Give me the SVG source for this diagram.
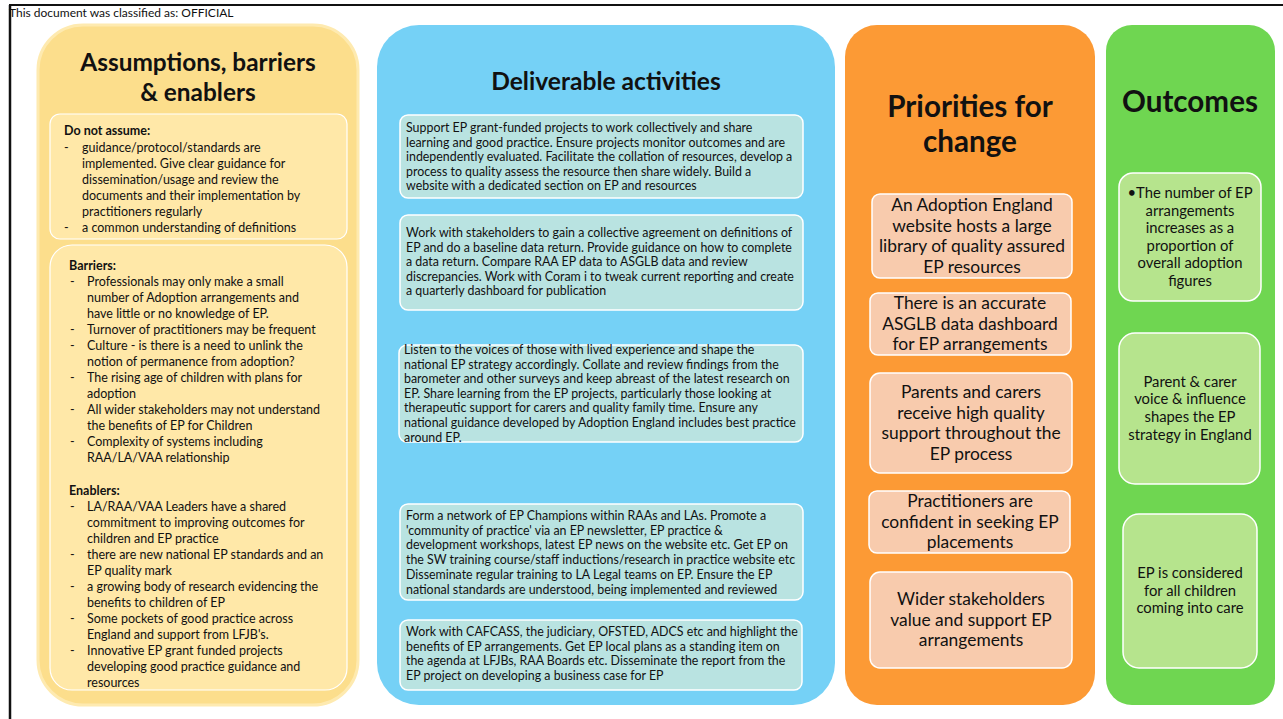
<svg xmlns="http://www.w3.org/2000/svg" width="1283" height="719" viewBox="0 0 1283 719">
<style>
text{font-family:Lato,"Open Sans","Liberation Sans",sans-serif;fill:#111}
.hdr{font-size:12px}
.t1{font-size:24.4px;font-weight:700;text-anchor:middle}
.t2{font-size:29.6px;font-weight:700;text-anchor:middle}
.lt{font-size:12.5px}
.lb{font-size:12.5px;font-weight:700}
.mt{font-size:12.4px}
.ot{font-size:17.4px;text-anchor:middle}
.gt{font-size:14.8px;text-anchor:middle}
.inY{fill:#FFE8A8;stroke:#fff;stroke-width:1.2}
.inB{fill:#B9E3E1;stroke:#fff;stroke-width:1.5}
.inO{fill:#F8CBAD;stroke:#fff;stroke-width:1.5}
.inG{fill:#B6E48D;stroke:#fff;stroke-width:1.5}
</style>
<rect width="1283" height="719" fill="#fff"/>
<g id="frame">
<line x1="9" y1="5" x2="1283" y2="5" stroke="#111" stroke-width="2"/>
<line x1="10" y1="5" x2="10" y2="719" stroke="#111" stroke-width="2.5"/>
<text class="hdr" x="9" y="17">This document was classified as: OFFICIAL</text>
</g>

<g id="col-assumptions">
<rect x="38" y="25" width="320" height="680" rx="45" fill="#FCDE8C" stroke="#FEEAB0" stroke-width="3"/>
<text class="t1" x="198" y="71">Assumptions, barriers</text>
<text class="t1" x="198" y="100.5">&amp; enablers</text>
</g>
<g id="box-do-not-assume">
<rect class="inY" x="50" y="114" width="297" height="125" rx="10"/>
<text class="lb" x="64" y="135">Do not assume:</text>
<text class="lt" x="64" y="152">-</text><text class="lt" x="82" y="152">guidance/protocol/standards are</text>
<text class="lt" x="82" y="168">implemented. Give clear guidance for</text>
<text class="lt" x="82" y="184">dissemination/usage and review the</text>
<text class="lt" x="82" y="200">documents and their implementation by</text>
<text class="lt" x="82" y="216">practitioners regularly</text>
<text class="lt" x="64" y="232">-</text><text class="lt" x="82" y="232">a common understanding of definitions</text>
</g>
<g id="box-barriers-enablers">
<rect class="inY" x="50" y="245" width="297" height="445" rx="22"/>
<text class="lb" x="69" y="270">Barriers:</text>
<text class="lt" x="70" y="286">-</text><text class="lt" x="87" y="286">Professionals may only make a small</text>
<text class="lt" x="87" y="302">number of Adoption arrangements and</text>
<text class="lt" x="87" y="318">have little or no knowledge of EP.</text>
<text class="lt" x="70" y="334">-</text><text class="lt" x="87" y="334">Turnover of practitioners may be frequent</text>
<text class="lt" x="70" y="350">-</text><text class="lt" x="87" y="350">Culture - is there is a need to unlink the</text>
<text class="lt" x="87" y="366">notion of permanence from adoption?</text>
<text class="lt" x="70" y="382">-</text><text class="lt" x="87" y="382">The rising age of children with plans for</text>
<text class="lt" x="87" y="398">adoption</text>
<text class="lt" x="70" y="414">-</text><text class="lt" x="87" y="414">All wider stakeholders may not understand</text>
<text class="lt" x="87" y="430">the benefits of EP for Children</text>
<text class="lt" x="70" y="446">-</text><text class="lt" x="87" y="446">Complexity of systems including</text>
<text class="lt" x="87" y="462">RAA/LA/VAA relationship</text>
<text class="lb" x="69" y="495">Enablers:</text>
<text class="lt" x="70" y="511">-</text><text class="lt" x="87" y="511">LA/RAA/VAA Leaders have a shared</text>
<text class="lt" x="87" y="527">commitment to improving outcomes for</text>
<text class="lt" x="87" y="543">children and EP practice</text>
<text class="lt" x="70" y="559">-</text><text class="lt" x="87" y="559">there are new national EP standards and an</text>
<text class="lt" x="87" y="575">EP quality mark</text>
<text class="lt" x="70" y="591">-</text><text class="lt" x="87" y="591">a growing body of research evidencing the</text>
<text class="lt" x="87" y="607">benefits to children of EP</text>
<text class="lt" x="70" y="623">-</text><text class="lt" x="87" y="623">Some pockets of good practice across</text>
<text class="lt" x="87" y="639">England and support from LFJB's.</text>
<text class="lt" x="70" y="655">-</text><text class="lt" x="87" y="655">Innovative EP grant funded projects</text>
<text class="lt" x="87" y="671">developing good practice guidance and</text>
<text class="lt" x="87" y="687">resources</text>
</g>

<g id="col-deliverables">
<rect x="377" y="25" width="458" height="680" rx="42" fill="#75D1F6"/>
<text x="606" y="90" style="font-size:24.6px;font-weight:700;text-anchor:middle">Deliverable activities</text>
</g>
<g id="act-1">
<rect class="inB" x="400" y="115" width="403" height="83" rx="8"/>
<text class="mt" x="406" y="132">Support EP grant-funded projects to work collectively and share</text>
<text class="mt" x="406" y="146.5">learning and good practice. Ensure projects monitor outcomes and are</text>
<text class="mt" x="406" y="161">independently evaluated. Facilitate the collation of resources, develop a</text>
<text class="mt" x="406" y="175.5">process to quality assess the resource then share widely. Build a</text>
<text class="mt" x="406" y="190">website with a dedicated section on EP and resources</text>
</g>
<g id="act-2">
<rect class="inB" x="400" y="215" width="403" height="95" rx="8"/>
<text class="mt" x="406" y="237">Work with stakeholders to gain a collective agreement on definitions of</text>
<text class="mt" x="406" y="251.5">EP and do a baseline data return. Provide guidance on how to complete</text>
<text class="mt" x="406" y="266">a data return. Compare RAA EP data to ASGLB data and review</text>
<text class="mt" x="406" y="280.5">discrepancies. Work with Coram i to tweak current reporting and create</text>
<text class="mt" x="406" y="295">a quarterly dashboard for publication</text>
</g>
<g id="act-3">
<rect class="inB" x="399" y="345" width="404" height="97" rx="8"/>
<text class="mt" x="404" y="354">Listen to the voices of those with lived experience and shape the</text>
<text class="mt" x="404" y="368.6">national EP strategy accordingly. Collate and review findings from the</text>
<text class="mt" x="404" y="383.2">barometer and other surveys and keep abreast of the latest research on</text>
<text class="mt" x="404" y="397.8">EP. Share learning from the EP projects, particularly those looking at</text>
<text class="mt" x="404" y="412.4">therapeutic support for carers and quality family time. Ensure any</text>
<text class="mt" x="404" y="427">national guidance developed by Adoption England includes best practice</text>
<text class="mt" x="404" y="441.6">around EP.</text>
</g>
<g id="act-4">
<rect class="inB" x="400" y="504" width="403" height="96" rx="8"/>
<text class="mt" x="406" y="520">Form a network of EP Champions within RAAs and LAs. Promote a</text>
<text class="mt" x="406" y="534.7">'community of practice' via an EP newsletter, EP practice &amp;</text>
<text class="mt" x="406" y="549.4">development workshops, latest EP news on the website etc. Get EP on</text>
<text class="mt" x="406" y="564.1">the SW training course/staff inductions/research in practice website etc</text>
<text class="mt" x="406" y="578.8">Disseminate regular training to LA Legal teams on EP. Ensure the EP</text>
<text class="mt" x="406" y="593.5">national standards are understood, being implemented and reviewed</text>
</g>
<g id="act-5">
<rect class="inB" x="400" y="620" width="402" height="70" rx="8"/>
<text class="mt" x="406" y="636">Work with CAFCASS, the judiciary, OFSTED, ADCS etc and highlight the</text>
<text class="mt" x="406" y="650.5">benefits of EP arrangements. Get EP local plans as a standing item on</text>
<text class="mt" x="406" y="665">the agenda at LFJBs, RAA Boards etc. Disseminate the report from the</text>
<text class="mt" x="406" y="679.5">EP project on developing a business case for EP</text>
</g>

<g id="col-priorities">
<rect x="845" y="25" width="250" height="680" rx="32" fill="#FC9A35"/>
<text class="t2" x="970" y="117">Priorities for</text>
<text class="t2" x="970" y="152">change</text>
</g>
<g id="pri-1">
<rect class="inO" x="872" y="194" width="200" height="84" rx="8"/>
<text class="ot" x="972" y="211">An Adoption England</text>
<text class="ot" x="972" y="232">website hosts a large</text>
<text class="ot" x="972" y="252">library of quality assured</text>
<text class="ot" x="972" y="273">EP resources</text>
</g>
<g id="pri-2">
<rect class="inO" x="870" y="293" width="201" height="62" rx="8"/>
<text class="ot" x="970" y="309">There is an accurate</text>
<text class="ot" x="970" y="330">ASGLB data dashboard</text>
<text class="ot" x="970" y="350">for EP arrangements</text>
</g>
<g id="pri-3">
<rect class="inO" x="870" y="373" width="202" height="100" rx="10"/>
<text class="ot" x="971" y="398">Parents and carers</text>
<text class="ot" x="971" y="419">receive high quality</text>
<text class="ot" x="971" y="439">support throughout the</text>
<text class="ot" x="971" y="460">EP process</text>
</g>
<g id="pri-4">
<rect class="inO" x="869" y="491" width="201" height="62" rx="8"/>
<text class="ot" x="970" y="507">Practitioners are</text>
<text class="ot" x="970" y="528">confident in seeking EP</text>
<text class="ot" x="970" y="548">placements</text>
</g>
<g id="pri-5">
<rect class="inO" x="870" y="572" width="202" height="96" rx="10"/>
<text class="ot" x="971" y="605">Wider stakeholders</text>
<text class="ot" x="971" y="626">value and support EP</text>
<text class="ot" x="971" y="646">arrangements</text>
</g>

<g id="col-outcomes">
<rect x="1106" y="25" width="169" height="680" rx="26" fill="#6FD651"/>
<text class="t2" x="1190" y="112">Outcomes</text>
</g>
<g id="out-1">
<rect class="inG" x="1119" y="173" width="142" height="128" rx="14"/>
<text class="gt" x="1190" y="198">•The number of EP</text>
<text class="gt" x="1190" y="216">arrangements</text>
<text class="gt" x="1190" y="233">increases as a</text>
<text class="gt" x="1190" y="251">proportion of</text>
<text class="gt" x="1190" y="268">overall adoption</text>
<text class="gt" x="1190" y="286">figures</text>
</g>
<g id="out-2">
<rect class="inG" x="1119" y="333" width="141" height="151" rx="16"/>
<text class="gt" x="1190" y="387">Parent &amp; carer</text>
<text class="gt" x="1190" y="404">voice &amp; influence</text>
<text class="gt" x="1190" y="422">shapes the EP</text>
<text class="gt" x="1190" y="440">strategy in England</text>
</g>
<g id="out-3">
<rect class="inG" x="1123" y="514" width="134" height="154" rx="16"/>
<text class="gt" x="1190" y="578">EP is considered</text>
<text class="gt" x="1190" y="596">for all children</text>
<text class="gt" x="1190" y="613">coming into care</text>
</g>
<g id="connectors"/>
</svg>
